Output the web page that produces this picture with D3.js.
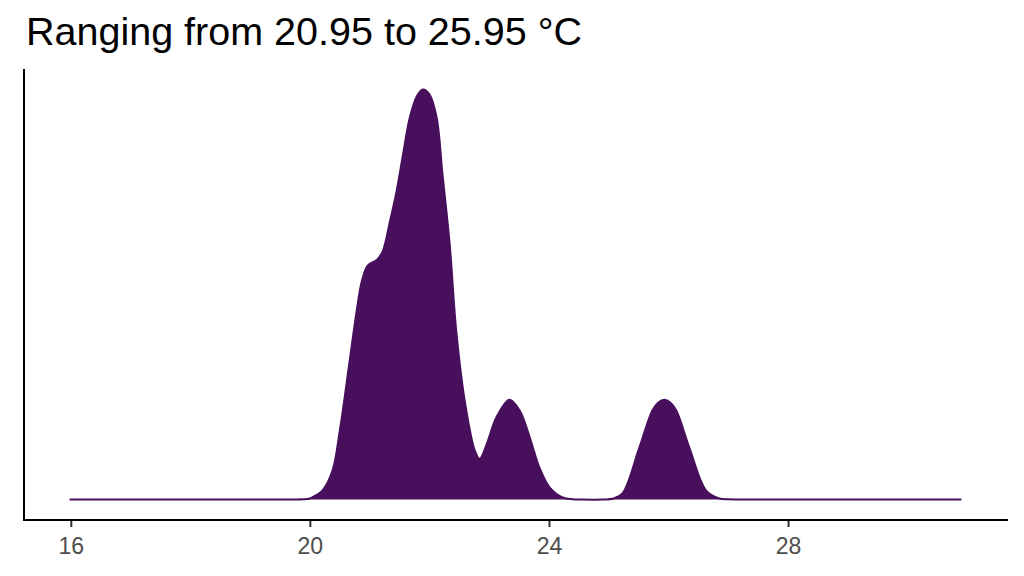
<!DOCTYPE html>
<html>
<head>
<meta charset="utf-8">
<script src="https://cdn.jsdelivr.net/npm/d3@7"></script>
<style>
  body { margin: 0; background: #fff; }
  text { font-family: "Liberation Sans", Arial, sans-serif; }
</style>
</head>
<body>
<div id="chart"></div>
<script>
// Chart size
const width = 1024;
const height = 576;

// Temperature (°C) and density
const temps = [15.98, 17, 18, 19, 19.7, 19.88, 20.0, 20.1, 20.21, 20.38, 20.5, 20.67, 20.78,
  20.87, 20.97, 21.12, 21.22, 21.33, 21.45, 21.56, 21.67, 21.79, 21.89, 22.0, 22.12, 22.22,
  22.34, 22.45, 22.6, 22.76, 22.84, 22.96, 23.12, 23.34, 23.51, 23.68, 23.84, 24.01, 24.23,
  24.4, 24.55, 24.9, 25.08, 25.23, 25.51, 25.73, 25.83, 25.93, 26.03, 26.13, 26.35, 26.63,
  26.85, 27.0, 27.15, 28, 29, 30, 30.9];
const density = [0, 0, 0, 0, 0, 0.0003, 0.0015, 0.006, 0.013, 0.043, 0.101, 0.207, 0.276,
  0.322, 0.345, 0.353, 0.366, 0.406, 0.454, 0.509, 0.562, 0.594, 0.604, 0.597, 0.563, 0.478,
  0.375, 0.247, 0.140, 0.072, 0.060, 0.082, 0.121, 0.147, 0.131, 0.091, 0.047, 0.018, 0.003,
  0.0005, 0, 0, 0.0015, 0.009, 0.076, 0.131, 0.143, 0.147, 0.143, 0.131, 0.076, 0.013,
  0.0015, 0.0003, 0, 0, 0, 0, 0];

const xTicks = [16, 20, 24, 28];
const title = "Ranging from 20.95 to 25.95 °C";

const points = temps.map((t, i) => ({ t: t, d: density[i] }));

const svg = d3.select("#chart")
    .append("svg")
    .attr("width", width)
    .attr("height", height);

// Panel edges
const panelLeft = 25, panelRight = 1006, panelTop = 69, panelBottom = 520;

// ggplot style 5% expansion
const xExt = d3.extent(temps);
const xPad = (xExt[1] - xExt[0]) * 0.05;
const x = d3.scaleLinear()
    .domain([xExt[0] - xPad, xExt[1] + xPad])
    .range([panelLeft, panelRight]);

const yMax = d3.max(density);
const y = d3.scaleLinear()
    .domain([-yMax * 0.05, yMax * 1.05])
    .range([panelBottom, panelTop]);

const curve = d3.curveCatmullRom.alpha(0.5);

const area = d3.area()
    .x(d => x(d.t))
    .y0(y(0))
    .y1(d => y(d.d))
    .curve(curve);

const line = d3.line()
    .x(d => x(d.t))
    .y(d => y(d.d))
    .curve(curve);

svg.append("path")
    .datum(points)
    .attr("d", area)
    .attr("fill", "#480f5c");

svg.append("path")
    .datum(points)
    .attr("d", line)
    .attr("fill", "none")
    .attr("stroke", "#480f5c")
    .attr("stroke-width", 2);

// Bottom axis
const xAxis = svg.append("g")
    .attr("transform", `translate(0,${panelBottom})`)
    .call(d3.axisBottom(x).tickValues(xTicks).tickSize(7).tickPadding(11));
xAxis.select(".domain").remove();
xAxis.selectAll(".tick line").attr("stroke", "#333").attr("stroke-width", 2);
xAxis.selectAll(".tick text")
    .attr("fill", "#4d4d4d")
    .style("font-size", "23px");

// Axis lines
svg.append("line")
    .attr("x1", panelLeft - 1).attr("x2", panelLeft - 1)
    .attr("y1", panelTop).attr("y2", panelBottom + 1)
    .attr("stroke", "#000").attr("stroke-width", 2);
svg.append("line")
    .attr("x1", panelLeft - 2).attr("x2", panelRight + 2)
    .attr("y1", panelBottom).attr("y2", panelBottom)
    .attr("stroke", "#000").attr("stroke-width", 2);

// Title
svg.append("text")
    .attr("x", 26)
    .attr("y", 45)
    .attr("fill", "#000")
    .style("font-size", "39.5px")
    .text(title);
</script>
</body>
</html>
